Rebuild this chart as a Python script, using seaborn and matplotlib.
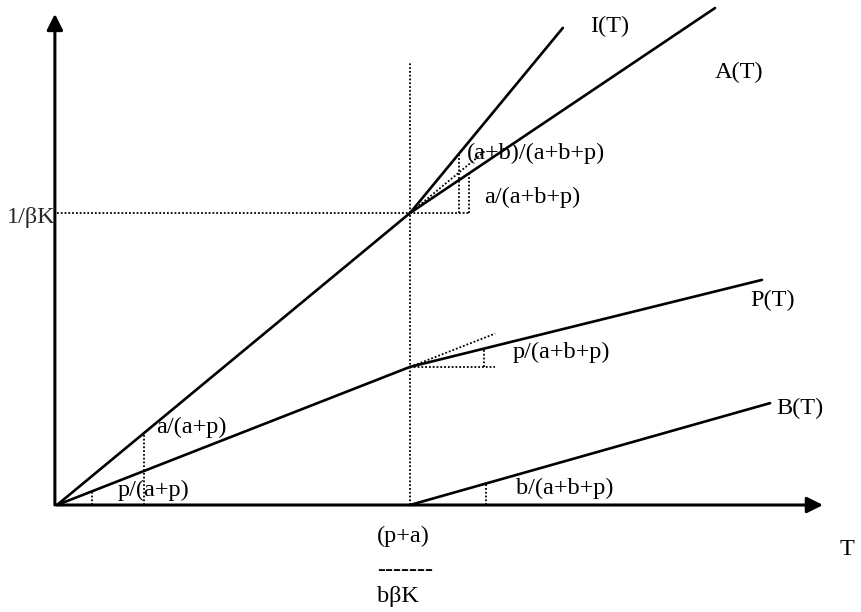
import numpy as np
import pandas as pd
import matplotlib
matplotlib.use("Agg")
import matplotlib.pyplot as plt
import seaborn as sns

# curve break points (T in units of the switch time,
# values in units of 1/(beta K))
T_switch = 1.0
I_T = [0.0, 1.0, 1.433]
I_val = [0.0, 1.0, 1.634]
A_T = [1.0, 1.864]
A_val = [1.0, 1.702]
P_T = [0.0, 1.0, 1.997]
P_val = [0.0, 0.473, 0.771]
B_T = [1.0, 2.02]
B_val = [0.0, 0.349]

curve_names = ["I(T)", "A(T)", "P(T)", "B(T)"]
slope_labels = ["a/(a+p)", "p/(a+p)", "(a+b)/(a+b+p)", "a/(a+b+p)",
                "p/(a+b+p)", "b/(a+b+p)"]

df = pd.concat([
    pd.DataFrame({"T": I_T, "value": I_val, "curve": "I(T)"}),
    pd.DataFrame({"T": A_T, "value": A_val, "curve": "A(T)"}),
    pd.DataFrame({"T": P_T, "value": P_val, "curve": "P(T)"}),
    pd.DataFrame({"T": B_T, "value": B_val, "curve": "B(T)"}),
])

sns.set_style("white")
plt.rcParams["font.family"] = ["Liberation Serif", "DejaVu Serif"]

fig = plt.figure(figsize=(8.61, 6.12), dpi=100)
ax = fig.add_axes([0, 0, 1, 1])
ax.set_xlim(-0.1615, 2.2776)
ax.set_ylim(-0.3664, 1.7295)
ax.axis("off")

sns.lineplot(data=df, x="T", y="value", units="curve", estimator=None,
             color="black", lw=1.9, legend=False, ax=ax, sort=False)


def at(xs, ys, t):
    return np.interp(t, xs, ys)


dot = dict(color="black", ls=(0, (1, 1.1)), lw=1.3)

# guide lines through the switch point
ax.plot([T_switch, T_switch], [0, 1.517], **dot)
ax.plot([0, 1.167], [at(I_T, I_val, T_switch)] * 2, **dot)

# slope triangles at the origin
for t, xs, ys in [(0.099, P_T, P_val), (0.246, I_T, I_val)]:
    ax.plot([t, t], [0, at(xs, ys, t)], **dot)

# slope triangles after the switch
i0 = at(I_T, I_val, T_switch)
p0 = at(P_T, P_val, T_switch)
s_i = i0 / T_switch
s_p = p0 / T_switch
ax.plot([T_switch, 1.212], [i0, i0 + s_i * (1.212 - T_switch)], **dot)
ax.plot([1.139, 1.139], [i0, at(I_T, I_val, 1.139)], **dot)
ax.plot([1.167, 1.167], [i0, at(A_T, A_val, 1.167)], **dot)

ax.plot([T_switch, 1.241], [p0, p0 + s_p * (1.241 - T_switch)], **dot)
ax.plot([T_switch, 1.241], [p0, p0], **dot)
ax.plot([1.21, 1.21], [p0, at(P_T, P_val, 1.21)], **dot)

ax.plot([1.215, 1.215], [0, at(B_T, B_val, 1.215)], **dot)

# axes with arrow heads
arrow = dict(arrowstyle="-|>", color="black", lw=2.2, mutation_scale=24,
             shrinkA=0, shrinkB=0)
ax.annotate("", xy=(2.170, 0), xytext=(0, 0), arrowprops=arrow)
ax.annotate("", xy=(-0.006, 1.682), xytext=(-0.006, 0), arrowprops=arrow)

fs = 17.5
txt = dict(fontsize=fs, color="black", va="center", ha="left")
ax.text(1.510, 1.640, curve_names[0], **txt)
ax.text(1.864, 1.483, curve_names[1], **txt)
ax.text(1.963, 0.702, curve_names[2], **txt)
ax.text(2.037, 0.332, curve_names[3], **txt)

ax.text(0.282, 0.267, slope_labels[0], **txt)
ax.text(0.173, 0.051, slope_labels[1], **txt)
ax.text(1.160, 1.205, slope_labels[2], **txt)
ax.text(1.210, 1.055, slope_labels[3], **txt)
ax.text(1.292, 0.521, slope_labels[4], **txt)
ax.text(1.300, 0.058, slope_labels[5], **txt)

ax.text(-0.004, 0.986, "1/βK", fontsize=fs, va="center", ha="right")
ax.text(2.218, -0.151, "T", **txt)
ax.text(0.907, -0.106, "(p+a)", **txt)
ax.text(0.907, -0.223, "-------", **txt)
ax.text(0.907, -0.312, "bβK", **txt)

fig.savefig("out.png", dpi=100)
